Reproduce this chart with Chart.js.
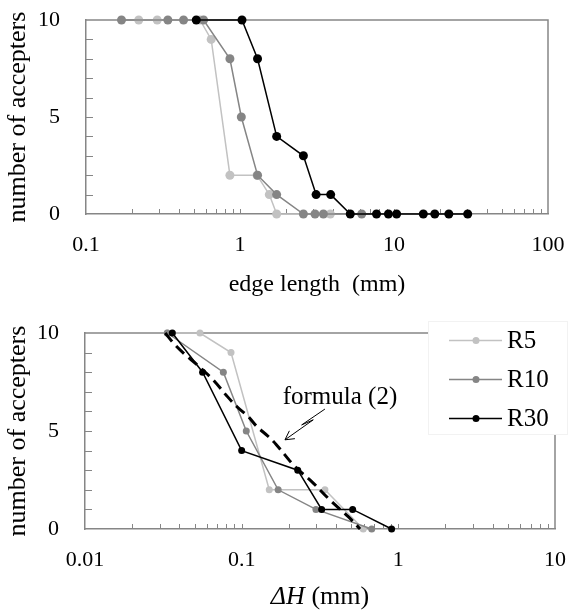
<!DOCTYPE html>
<html><head><meta charset="utf-8">
<script src="https://cdn.jsdelivr.net/npm/chart.js@4.4.1/dist/chart.umd.min.js"></script>
<style>
html,body{margin:0;padding:0;background:#fff;}
#wrap{position:relative;width:571px;height:613px;overflow:hidden;}
canvas{position:absolute;left:0;}
</style>
</head><body>
<div id="wrap">
<canvas id="c1" width="571" height="305" style="top:0px"></canvas>
<canvas id="c2" width="571" height="308" style="top:305px"></canvas>
</div>
<script>
// ---------- data ----------
const seriesNames = ['R5', 'R10', 'R30'];
const seriesColors = ['#c2c2c2', '#858585', '#000000'];

// top chart: edge length (mm) vs number of accepters
const topR5X  = [0.22, 0.29, 0.55, 0.65, 0.86, 1.29, 1.55, 1.73, 3.86];
const topR5Y  = [10, 10, 10, 9, 2, 2, 1, 0, 0];
const topR10X = [0.17, 0.34, 0.43, 0.58, 0.86, 1.02, 1.30, 1.73, 2.58, 3.07, 3.48, 6.17];
const topR10Y = [10, 10, 10, 10, 8, 5, 2, 1, 0, 0, 0, 0];
const topR30X = [0.52, 1.03, 1.30, 1.73, 2.58, 3.12, 3.88, 5.2, 7.7, 9.2, 10.4, 15.5, 18.4, 22.7, 30.1];
const topR30Y = [10, 10, 8, 4, 3, 1, 1, 0, 0, 0, 0, 0, 0, 0, 0];

// bottom chart: ΔH (mm) vs number of accepters
const botR5X  = [0.0335, 0.0542, 0.0855, 0.150, 0.340, 0.597];
const botR5Y  = [10, 10, 9, 2, 2, 0];
const botR10X = [0.0335, 0.0764, 0.107, 0.171, 0.298, 0.676];
const botR10Y = [10, 8, 5, 2, 1, 0];
const botR30X = [0.0361, 0.0563, 0.100, 0.228, 0.324, 0.511, 0.906];
const botR30Y = [10, 8, 4, 3, 1, 1, 0];
const formulaX = [0.0325, 0.0375, 0.0435, 0.0516, 0.0659, 0.0802, 0.093, 0.110, 0.125, 0.148, 0.167, 0.219, 0.280, 0.366, 0.479, 0.57];
const formulaY = [10, 9.4, 8.9, 8.4, 7.6, 6.8, 6.25, 5.74, 5.23, 4.72, 4.29, 3.18, 2.42, 1.48, 0.63, 0];

// ticks
const topXMajor = [0.1, 1, 10, 100];
const topXLabels = ['0.1', '1', '10', '100'];
const botXMajor = [0.01, 0.1, 1, 10];
const botXLabels = ['0.01', '0.1', '1', '10'];
const yLabelValues = [0, 5, 10];
const yLabels = ['0', '5', '10'];

// annotation (data coordinates of the bottom chart)
const noteText = 'formula (2)';
const notePos = {x: 0.424, y: 6.69};
const arrowPath = [{x: 0.340, y: 6.12}, {x: 0.2415, y: 5.31}, {x: 0.2864, y: 5.57}, {x: 0.189, y: 4.55}];

// ---------- style ----------
const FONT = '"Liberation Serif", "Times New Roman", serif';
const AXIS = '#868686';
const TICK_SIZE = 22;
const TITLE_SIZE = 25;

function pts(xs, ys) { return xs.map((x, i) => ({x: x, y: ys[i]})); }

function seriesSets(data, radius) {
  return data.map((d, i) => ({
    label: seriesNames[i],
    data: pts(d[0], d[1]),
    borderColor: seriesColors[i],
    backgroundColor: seriesColors[i],
    pointBackgroundColor: seriesColors[i],
    pointBorderWidth: 0,
    pointRadius: radius,
    borderWidth: 1.5,
    tension: 0,
    clip: false,
    order: 4 - i
  }));
}

function nearIdx(list, v) { return list.findIndex(m => Math.abs(m - v) / m < 1e-6); }
function noPad(ax) { ax.paddingLeft = 0; ax.paddingRight = 0; ax.paddingTop = 0; ax.paddingBottom = 0; }

function scalesCfg(xMajor, xLabels, xTitle, yWidth, xHeight) {
  return {
    x: {
      type: 'logarithmic',
      min: xMajor[0], max: xMajor[xMajor.length - 1],
      grid: {display: false, drawTicks: false},
      border: {display: true, color: AXIS, width: 1.5},
      afterBuildTicks: ax => {
        const t = [];
        xMajor.forEach((m, i) => {
          if (i < xMajor.length - 1) { for (let k = 1; k < 10; k++) t.push({value: +(m * k).toPrecision(4)}); }
          else t.push({value: m});
        });
        ax.ticks = t;
      },
      ticks: {
        autoSkip: false, maxRotation: 0, minRotation: 0, padding: 18, color: '#000',
        font: {family: FONT, size: TICK_SIZE},
        callback: v => { const i = nearIdx(xMajor, v); return i >= 0 ? xLabels[i] : ''; }
      },
      title: {display: !!xTitle, text: xTitle, color: '#000', font: {family: FONT, size: TITLE_SIZE - 1}, padding: {top: 6, bottom: 6}},
      afterFit: ax => { ax.height = xHeight; noPad(ax); }
    },
    y: {
      type: 'linear', min: 0, max: 10,
      grid: {display: false, drawTicks: false},
      border: {display: true, color: AXIS, width: 1.5},
      ticks: {
        stepSize: 1, autoSkip: false, padding: 26, color: '#000',
        font: {family: FONT, size: TICK_SIZE},
        callback: v => { const i = yLabelValues.indexOf(v); return i >= 0 ? yLabels[i] : ''; }
      },
      title: {display: true, text: 'number of accepters', color: '#000', font: {family: FONT, size: TITLE_SIZE + 1}, padding: {top: 3, bottom: 3}},
      afterFit: ax => { ax.width = yWidth; noPad(ax); }
    }
  };
}

// frame (top/right borders) and inward tick marks
const frameTicks = {
  id: 'frameTicks',
  beforeDatasetsDraw(chart) {
    const {ctx, chartArea: a, scales: {x, y}} = chart;
    ctx.save();
    ctx.strokeStyle = AXIS;
    ctx.lineWidth = 1.5;
    ctx.beginPath();
    ctx.moveTo(a.left, a.top); ctx.lineTo(a.right, a.top); ctx.lineTo(a.right, a.bottom);
    ctx.stroke();
    ctx.lineWidth = 1;
    ctx.beginPath();
    x.ticks.forEach(t => {
      const px = Math.round(x.getPixelForValue(t.value)) + 0.5;
      if (px <= a.left + 1 || px >= a.right - 1) return;
      ctx.moveTo(px, a.bottom); ctx.lineTo(px, a.bottom - 5);
    });
    y.ticks.forEach(t => {
      const py = Math.round(y.getPixelForValue(t.value)) + 0.5;
      if (py <= a.top + 1 || py >= a.bottom - 1) return;
      ctx.moveTo(a.left, py); ctx.lineTo(a.left + 7, py);
    });
    ctx.stroke();
    ctx.restore();
  }
};

// bottom chart: legend, annotation, italic axis title
const bottomExtras = {
  id: 'bottomExtras',
  afterDatasetsDraw(chart) {
    const {ctx, chartArea: a, scales: {x, y}} = chart;
    ctx.save();
    // annotation text
    ctx.fillStyle = '#000';
    ctx.font = TITLE_SIZE + 'px ' + FONT;
    ctx.textAlign = 'center';
    ctx.textBaseline = 'middle';
    ctx.fillText(noteText, x.getPixelForValue(notePos.x), y.getPixelForValue(notePos.y));
    // zigzag arrow
    const p = arrowPath.map(q => [x.getPixelForValue(q.x), y.getPixelForValue(q.y)]);
    ctx.strokeStyle = '#000';
    ctx.lineWidth = 1;
    ctx.beginPath();
    ctx.moveTo(p[0][0], p[0][1]);
    for (let i = 1; i < p.length; i++) ctx.lineTo(p[i][0], p[i][1]);
    const tip = p[p.length - 1], prev = p[p.length - 2];
    const ang = Math.atan2(tip[1] - prev[1], tip[0] - prev[0]);
    const hl = 10;
    ctx.moveTo(tip[0] - hl * Math.cos(ang - 0.5), tip[1] - hl * Math.sin(ang - 0.5));
    ctx.lineTo(tip[0], tip[1]);
    ctx.lineTo(tip[0] - hl * Math.cos(ang + 0.5), tip[1] - hl * Math.sin(ang + 0.5));
    ctx.stroke();

    // legend
    const bx = a.right - 127, by = a.top - 12, bw = 140, bh = 114;
    ctx.fillStyle = '#fff';
    ctx.fillRect(bx, by, bw, bh);
    ctx.strokeStyle = '#f2f2f2';
    ctx.lineWidth = 1;
    ctx.strokeRect(bx + 0.5, by + 0.5, bw - 1, bh - 1);
    const sets = chart.data.datasets.filter(d => seriesNames.includes(d.label));
    seriesNames.forEach((name, i) => {
      const ds = sets.find(d => d.label === name);
      const cy = a.top + 7.5 + i * 39;
      ctx.strokeStyle = ds.borderColor;
      ctx.lineWidth = 1.5;
      ctx.beginPath();
      ctx.moveTo(a.right - 106, cy); ctx.lineTo(a.right - 53, cy);
      ctx.stroke();
      ctx.fillStyle = ds.borderColor;
      ctx.beginPath();
      ctx.arc(a.right - 79, cy, 3.5, 0, Math.PI * 2);
      ctx.fill();
      ctx.fillStyle = '#000';
      ctx.font = TITLE_SIZE + 'px ' + FONT;
      ctx.textAlign = 'left';
      ctx.textBaseline = 'middle';
      ctx.fillText(name, a.right - 48, cy + 1);
    });

    // x-axis title with italic ΔH
    const cx = (a.left + a.right) / 2;
    const ty = x.bottom - 16;
    const fs = TITLE_SIZE + 1;
    ctx.textBaseline = 'middle';
    ctx.textAlign = 'left';
    ctx.font = 'italic ' + fs + 'px ' + FONT;
    const t1 = '\u0394H';
    const w1 = ctx.measureText(t1).width;
    ctx.font = fs + 'px ' + FONT;
    const t2 = ' (mm)';
    const w2 = ctx.measureText(t2).width;
    const sx = cx - (w1 + w2) / 2;
    ctx.font = 'italic ' + fs + 'px ' + FONT;
    ctx.fillText(t1, sx, ty);
    ctx.font = fs + 'px ' + FONT;
    ctx.fillText(t2, sx + w1, ty);
    ctx.restore();
  }
};

const common = {
  responsive: false, animation: false, devicePixelRatio: 1,
  plugins: {legend: {display: false}, tooltip: {enabled: false}}
};

new Chart(document.getElementById('c1'), {
  type: 'line',
  data: {datasets: seriesSets([[topR5X, topR5Y], [topR10X, topR10Y], [topR30X, topR30Y]], 4.5)},
  options: Object.assign({}, common, {
    layout: {padding: {left: 0, right: 23, top: 20, bottom: 0}},
    scales: scalesCfg(topXMajor, topXLabels, 'edge length  (mm)', 86, 91)
  }),
  plugins: [frameTicks]
});

const botSets = seriesSets([[botR5X, botR5Y], [botR10X, botR10Y], [botR30X, botR30Y]], 3.5);
botSets.push({
  label: 'formula (2)',
  data: pts(formulaX, formulaY),
  borderColor: '#000', borderWidth: 3, borderDash: [11, 6],
  pointRadius: 0, tension: 0.35, clip: false, order: 1, fill: false
});

new Chart(document.getElementById('c2'), {
  type: 'line',
  data: {datasets: botSets},
  options: Object.assign({}, common, {
    layout: {padding: {left: 0, right: 16, top: 28, bottom: 0}},
    scales: scalesCfg(botXMajor, botXLabels, '', 85, 84)
  }),
  plugins: [frameTicks, bottomExtras]
});
</script>
</body></html>
